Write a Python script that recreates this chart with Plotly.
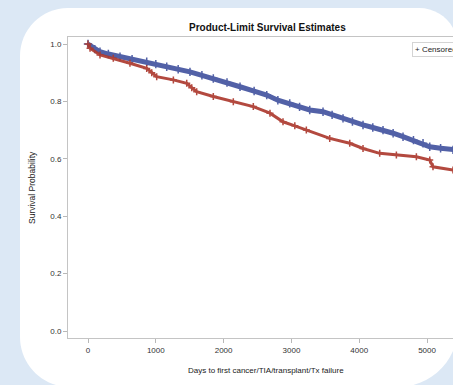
import plotly.graph_objects as go

# Kaplan-Meier estimates per group (days, survival probability);
# events are dense enough that the curves read as continuous bands
group1_days = [0, 100, 177, 300, 472, 650, 866, 1000, 1161, 1330, 1504, 1680,
               1848, 2050, 2242, 2450, 2636, 2800, 2975, 3120, 3270, 3466,
               3600, 3761, 3900, 4056, 4200, 4351, 4500, 4646, 4800, 4941,
               5040, 5200, 5383, 5500]
group1_surv = [1.000, 0.982, 0.973, 0.965, 0.956, 0.947, 0.938, 0.930, 0.921,
               0.912, 0.903, 0.891, 0.880, 0.866, 0.851, 0.836, 0.822, 0.804,
               0.793, 0.781, 0.770, 0.764, 0.753, 0.741, 0.730, 0.718, 0.709,
               0.700, 0.689, 0.677, 0.665, 0.654, 0.642, 0.637, 0.631, 0.629]

group2_days = [0, 30, 177, 373, 619, 866, 940, 1013, 1259, 1456, 1530, 1603,
               1848, 2143, 2438, 2684, 2876, 3050, 3220, 3565, 3860, 4056,
               4302, 4548, 4843, 5040, 5088, 5383, 5500]
group2_surv = [1.000, 0.985, 0.962, 0.950, 0.933, 0.915, 0.900, 0.886, 0.875,
               0.863, 0.848, 0.834, 0.817, 0.799, 0.782, 0.759, 0.729, 0.715,
               0.700, 0.671, 0.654, 0.636, 0.619, 0.613, 0.607, 0.596, 0.572,
               0.561, 0.558]

x_ticks = [0, 1000, 2000, 3000, 4000, 5000]
y_ticks = [0.0, 0.2, 0.4, 0.6, 0.8, 1.0]

BLUE = "#4454a0"
RED = "#ad3a2f"
FONT = "Liberation Sans, Arial, sans-serif"

W, H = 453, 385
L, T, B = 68, 37, 338          # plot area edges in pixels (right edge = W)
PW, PH = W - L, B - T


def px(x):
    return (x - L) / PW


def py(y):
    return (B - y) / PH


def card_path(x0, y0, x1, y1, r_tl, r_tr, r_br, r_bl):
    k = 0.5523

    def P(x, y):
        return f"{px(x):.5f},{py(y):.5f}"

    parts = [
        f"M {P(x0 + r_tl, y0)}",
        f"L {P(x1 - r_tr, y0)}",
        f"C {P(x1 - r_tr + k * r_tr, y0)} {P(x1, y0 + r_tr - k * r_tr)} {P(x1, y0 + r_tr)}",
        f"L {P(x1, y1 - r_br)}",
        f"C {P(x1, y1 - r_br + k * r_br)} {P(x1 - r_br + k * r_br, y1)} {P(x1 - r_br, y1)}",
        f"L {P(x0 + r_bl, y1)}",
        f"C {P(x0 + r_bl - k * r_bl, y1)} {P(x0, y1 - r_bl + k * r_bl)} {P(x0, y1 - r_bl)}",
        f"L {P(x0, y0 + r_tl)}",
        f"C {P(x0, y0 + r_tl - k * r_tl)} {P(x0 + r_tl - k * r_tl, y0)} {P(x0 + r_tl, y0)}",
        "Z",
    ]
    return " ".join(parts)


fig = go.Figure()

for days, surv, color, width, msize in [
    (group1_days, group1_surv, BLUE, 5, 6),
    (group2_days, group2_surv, RED, 3, 5),
]:
    fig.add_trace(go.Scatter(
        x=days, y=surv, mode="lines+markers",
        line=dict(color=color, width=width, shape="linear"),
        marker=dict(symbol="cross-thin", size=msize,
                    line=dict(color=color, width=1.5)),
        opacity=0.92,
        showlegend=False, hoverinfo="skip",
    ))

fig.update_layout(
    width=W, height=H,
    margin=dict(l=L, r=0, t=T, b=H - B, pad=0, autoexpand=False),
    paper_bgcolor="#dce8f5",
    plot_bgcolor="white",
    font=dict(family=FONT, size=8, color="#333333"),
    shapes=[dict(
        type="path", xref="paper", yref="paper", layer="below",
        path=card_path(20, 8, 458, 387, 48, 39, 60, 50),
        fillcolor="white", line=dict(width=0),
    )],
    annotations=[
        dict(text="<b>Product-Limit Survival Estimates</b>",
             xref="paper", yref="paper", x=px(267), y=py(27),
             xanchor="center", yanchor="middle", showarrow=False,
             font=dict(size=10, color="#111111", family=FONT)),
        dict(text="Survival Probability", textangle=-90,
             xref="paper", yref="paper", x=px(32), y=py(188),
             xanchor="center", yanchor="middle", showarrow=False,
             font=dict(size=8.5, color="#222222", family=FONT)),
        dict(text="Days to first cancer/TIA/transplant/Tx failure",
             xref="paper", yref="paper", x=px(266), y=py(370),
             xanchor="center", yanchor="middle", showarrow=False,
             font=dict(size=8, color="#222222", family=FONT)),
        dict(text="+ Censored",
             xref="paper", yref="paper", x=px(412), y=py(49),
             xanchor="left", yanchor="middle", showarrow=False,
             bgcolor="white", bordercolor="#d4d4d4", borderwidth=1,
             borderpad=2,
             font=dict(size=8, color="#222222", family=FONT)),
    ],
)

axis_common = dict(
    showgrid=False, zeroline=False,
    showline=True, linecolor="#c4c4c4", linewidth=1, mirror=True,
    ticks="outside", ticklen=4, tickcolor="#b8b8b8", tickwidth=1,
    tickfont=dict(size=8, color="#333333", family=FONT),
)

fig.update_xaxes(range=[-295, 5383], tickvals=x_ticks,
                 ticktext=[str(v) for v in x_ticks], **axis_common)
fig.update_yaxes(range=[-0.0244, 1.0244], tickvals=y_ticks,
                 ticktext=[f"{v:.1f}" for v in y_ticks], **axis_common)

fig.write_html("out.html")
